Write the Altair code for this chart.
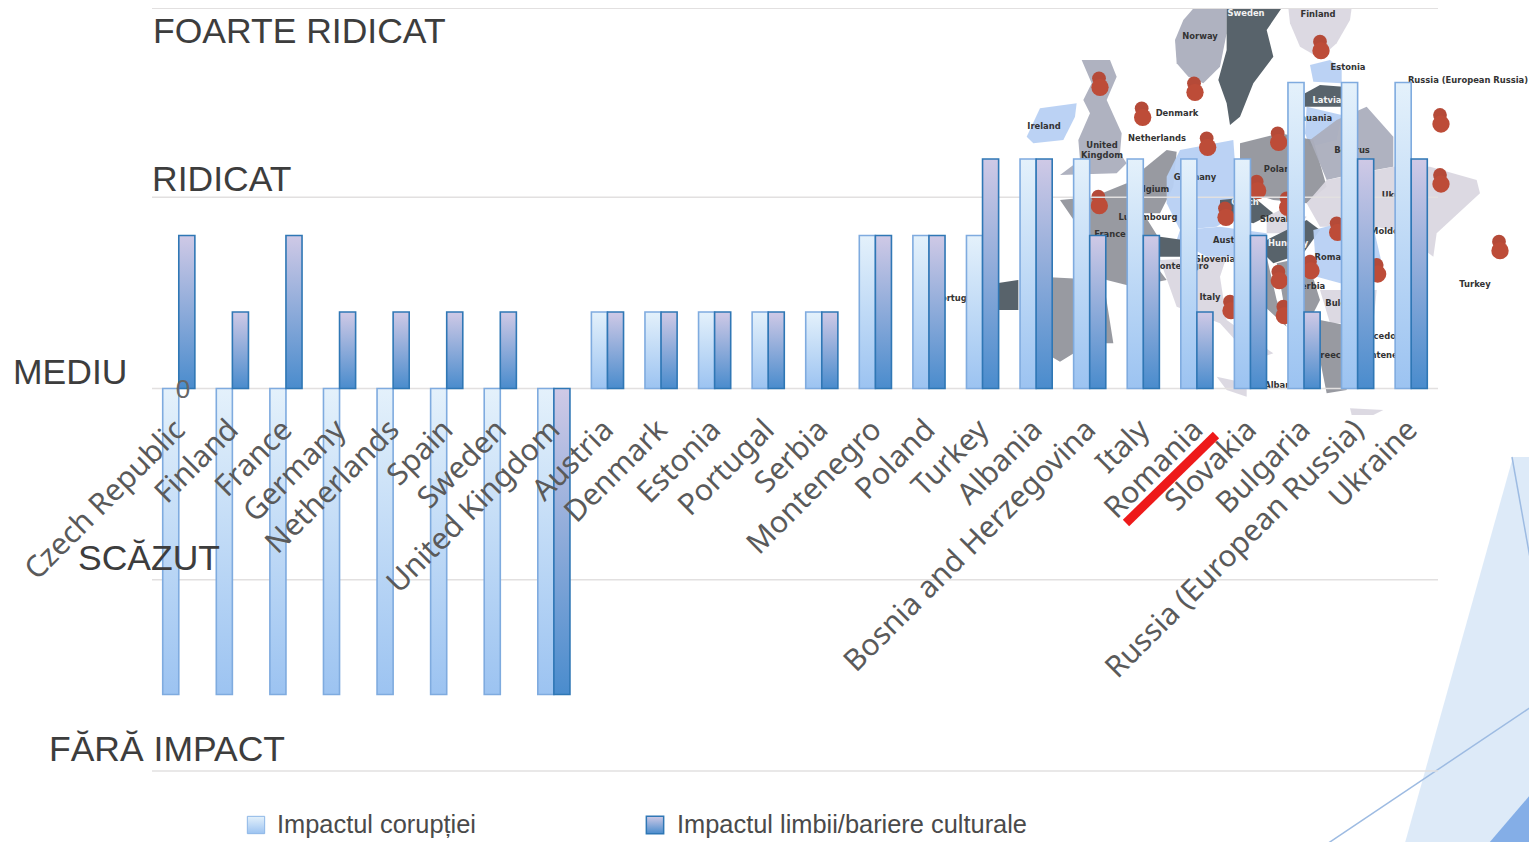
import altair as alt
import pandas as pd

countries = ["Czech Republic", "Finland", "France", "Germany", "Netherlands", "Spain", "Sweden",
             "United Kingdom", "Austria", "Denmark", "Estonia", "Portugal", "Serbia", "Montenegro",
             "Poland", "Turkey", "Albania", "Bosnia and Herzegovina", "Italy", "Romania", "Slovakia",
             "Bulgaria", "Russia (European Russia)", "Ukraine"]
coruptie = [-4, -4, -4, -4, -4, -4, -4, -4, 1, 1, 1, 1, 1, 2, 2, 2, 3, 3, 3, 3, 3, 4, 4, 4]
limba = [2, 1, 2, 1, 1, 1, 1, -4, 1, 1, 1, 1, 1, 2, 2, 3, 3, 2, 2, 1, 2, 1, 3, 3]
grid_levels = [4.97, 2.5, 0, -2.5, -5]

level_names = ["FOARTE RIDICAT", "RIDICAT", "MEDIU", "SCĂZUT", "FĂRĂ IMPACT"]
level_x = [153, 152, 13, 78, 49]
level_y = [32, 180, 373, 559, 750]

legend_names = ["Impactul corupției", "Impactul limbii/bariere culturale"]
legend_sw_x = [256, 655]
legend_tx_x = [277, 677]
legend_y = [825, 825]

# Background map pictured behind the bars (zoomed-crop units)
DARK, GREY, LAV, PALE, BLUE = "#4f5b63", "#92959c", "#abaebd", "#dad7e0", "#b7d0f3"
map_shapes = [
    (LAV, [(620,24),(530,14),(490,60),(465,120),(470,190),(505,230),(550,250),(600,200),(620,100)]),
    (PALE, [(805,24),(995,24),(990,60),(950,130),(900,175),(840,140),(810,70)]),
    (DARK, [(620,24),(785,24),(740,90),(760,170),(700,250),(680,300),(660,350),(630,375),(620,310),(595,240),(620,150)]),
    (BLUE, [(870,195),(930,180),(965,210),(965,250),(880,245)]),
    (DARK, [(855,280),(900,255),(970,260),(970,320),(855,320)]),
    (BLUE, [(860,320),(965,345),(950,420),(870,440),(855,400)]),
    (LAV, [(185,180),(270,180),(290,230),(260,300),(305,400),(300,460),(320,490),(290,520),(120,525),(180,480),(175,420),(210,340),(190,300),(215,250)]),
    (BLUE, [(60,325),(170,310),(165,350),(130,420),(40,430),(20,410)]),
    (GREY, [(120,600),(220,590),(320,550),(370,640),(420,720),(410,800),(440,840),(340,860),(260,840),(200,800),(175,680)]),
    (GREY, [(60,830),(250,840),(280,1030),(210,1030),(120,1085),(60,1050)]),
    (DARK, [(-70,850),(-5,840),(-5,930),(-70,930)]),
    (GREY, [(330,540),(440,450),(470,455),(460,560),(420,640),(370,640)]),
    (BLUE, [(440,530),(480,450),(640,420),(650,560),(650,640),(590,680),(480,690),(440,610)]),
    (GREY, [(660,430),(780,400),(880,420),(920,560),(860,610),(760,600),(660,570)]),
    (LAV, [(950,360),(1040,320),(1120,410),(1120,500),(1010,520),(920,540),(870,420)]),
    (PALE, [(920,540),(1120,500),(1230,500),(1370,540),(1380,580),(1250,700),(1240,770),(1130,690),(1060,680),(900,680),(860,610)]),
    (DARK, [(600,600),(700,590),(760,640),(700,670),(600,650)]),
    (PALE, [(740,650),(780,630),(860,650),(820,700),(740,700)]),
    (DARK, [(740,720),(860,660),(900,690),(850,760),(760,790),(740,770)]),
    (BLUE, [(480,690),(600,680),(740,700),(740,770),(560,770),(470,720)]),
    (DARK, [(420,710),(490,720),(490,770),(420,770)]),
    (PALE, [(420,780),(620,770),(600,830),(620,960),(760,1060),(700,1080),(600,970),(470,920)]),
    (GREY, [(640,780),(740,770),(770,900),(800,980),(690,880)]),
    (GREY, [(770,790),(860,770),(900,900),(880,940),(800,960)]),
    (BLUE, [(880,690),(960,670),(1060,680),(1090,810),(1000,860),(890,830)]),
    (PALE, [(900,870),(1070,870),(1060,970),(930,970)]),
    (GREY, [(900,960),(1050,990),(990,1060),(980,1170),(920,1180),(900,1080)]),
    (PALE, [(590,1130),(680,1150),(680,1190),(620,1170)]),
    (PALE, [(990,1225),(1090,1230),(1060,1245),(995,1245)]),
]
pin_zx = [237, 522, 365, 560, 773, 900, 1260, 1260, 235, 710, 800, 615, 950, 870, 775, 1070, 790, 630, 1437]
pin_zy = [235, 250, 325, 415, 400, 125, 345, 525, 590, 545, 595, 625, 670, 785, 815, 795, 920, 905, 725]

map_labels = ["Sweden", "Norway", "Finland", "Estonia", "Latvia", "Lithuania", "Russia (European Russia)",
              "Denmark", "Ireland", "United", "Kingdom", "Netherlands", "Belarus", "Germany", "Poland",
              "Ukraine", "Belgium", "Luxembourg", "Czech", "France", "Slovakia", "Austria", "Hungary",
              "Moldova", "Slovenia", "Montenegro", "Romania", "Serbia", "Italy", "Bulgaria", "Turkey",
              "Macedonia", "Greece", "Montenegro", "Albania", "Portugal"]
map_lx = [1246, 1200, 1318, 1348, 1327, 1310, 1468, 1177, 1044, 1102, 1102, 1157, 1352, 1195, 1280, 1400,
          1150, 1148, 1245, 1110, 1280, 1230, 1288, 1390, 1215, 1180, 1335, 1310, 1210, 1345, 1475, 1385,
          1330, 1385, 1282, 955]
map_ly = [13, 36, 14, 67, 100, 118, 80, 113, 126, 145, 155, 138, 150, 177, 169, 195, 189, 217, 202, 234,
          219, 240, 243, 231, 259, 266, 257, 286, 297, 303, 284, 336, 355, 355, 385, 298]
map_lc = ["#f2f2f2", "#333333", "#333333", "#333333", "#f2f2f2", "#333333", "#333333", "#333333", "#333333",
          "#333333", "#333333", "#333333", "#333333", "#333333", "#333333", "#333333", "#333333", "#333333",
          "#f2f2f2", "#333333", "#333333", "#333333", "#f2f2f2", "#333333", "#333333", "#333333", "#333333",
          "#333333", "#333333", "#333333", "#333333", "#333333", "#333333", "#333333", "#333333", "#333333"]

# Slide decoration bottom right, and the pen marks
deco_shapes = [
    ("#dbe9f8", [(1513, 457), (1537, 457), (1537, 850), (1403, 850)]),
    ("#7eabe6", [(1483, 850), (1537, 787), (1537, 850)]),
]
deco_lines_x = [1512, 1318]
deco_lines_y = [457, 850]
deco_lines_x2 = [1537, 1537]
deco_lines_y2 = [597, 703]
red_x, red_y, red_x2, red_y2 = [1126], [523], [1216], [435]


def feature(color, pts):
    ring = [list(p) for p in pts] + [list(pts[0])]
    return {"type": "Feature", "properties": {"fill": color},
            "geometry": {"type": "Polygon", "coordinates": [ring]}}


features = [feature(c, [(1020 + x / 3, y / 3) for x, y in pts]) for c, pts in map_shapes]
features += [feature(c, pts) for c, pts in deco_shapes]

cx = alt.Scale(domain=[0, 1537], range=[-8, 1529])
cy = alt.Scale(domain=[0, 850], range=[-8, 842])
X = alt.X("px:Q", scale=cx, axis=None)
Y = alt.Y("py:Q", scale=cy, axis=None)
band = alt.Scale(domain=countries, range=[144, 1430], paddingInner=0.4, paddingOuter=0.2)
val = alt.Scale(domain=[-5, 5], range=[763, -2])
FONT = "Liberation Sans"

geo = alt.Chart(alt.Data(values=features)).mark_geoshape(stroke=None, opacity=0.95).encode(
    fill=alt.Fill("properties.fill:N", scale=None)
).project(type="identity", scale=1, translate=[-8, -8])

deco = alt.Chart(pd.DataFrame({"px": deco_lines_x, "py": deco_lines_y, "px2": deco_lines_x2, "py2": deco_lines_y2})
                 ).mark_rule(color="#9dbbe2", strokeWidth=1.5).encode(x=X, y=Y, x2="px2:Q", y2="py2:Q")

pins_top = alt.Chart(pd.DataFrame({"px": [1020 + v / 3 for v in pin_zx], "py": [v / 3 for v in pin_zy]})
                     ).mark_circle(color="#b54a38", size=190, opacity=1).encode(x=X, y=Y)
pins_low = alt.Chart(pd.DataFrame({"px": [1021 + v / 3 for v in pin_zx], "py": [v / 3 + 9 for v in pin_zy]})
                     ).mark_circle(color="#bd4c38", size=300, opacity=1).encode(x=X, y=Y)

map_text = alt.Chart(pd.DataFrame({"px": map_lx, "py": map_ly, "t": map_labels, "c": map_lc})).mark_text(
    font="DejaVu Sans", fontSize=8.4, fontWeight="bold", align="center", baseline="middle"
).encode(x=X, y=Y, text="t:N", color=alt.Color("c:N", scale=None))

grid = alt.Chart(pd.DataFrame({"v": grid_levels})).mark_rule(color="#e2e0e0", strokeWidth=1.5).encode(
    y=alt.Y("v:Q", scale=val, axis=None), x=alt.value(144), x2=alt.value(1430))

df = pd.DataFrame({"country": countries * 2,
                   "series": ["a"] * 24 + ["b"] * 24,
                   "value": coruptie + limba})


def grad(top, bottom):
    return alt.Gradient(gradient="linear", x1=0, x2=0, y1=0, y2=1,
                        stops=[alt.GradientStop(color=top, offset=0), alt.GradientStop(color=bottom, offset=1)])


LIGHT = grad("#e4f1fb", "#9cc3f1")
DEEP = grad("#cfc9e6", "#4a8ccd")


def bars(key, fill, stroke):
    return alt.Chart(df[df["series"] == key]).mark_bar(fill=fill, stroke=stroke, strokeWidth=1.6).encode(
        x=alt.X("country:N", scale=band, axis=None, sort=countries),
        xOffset=alt.XOffset("series:N", scale=alt.Scale(domain=["a", "b"])),
        y=alt.Y("value:Q", scale=val, axis=None))


cat_labels = alt.Chart(pd.DataFrame({"country": countries, "v": [-0.5] * 24})).mark_text(
    font="Noto Sans", fontSize=30, color="#5a5a5a", angle=315, align="right", baseline="middle", dx=2
).encode(x=alt.X("country:N", scale=band, axis=None, sort=countries),
         y=alt.Y("v:Q", scale=val, axis=None), text="country:N")

zero = alt.Chart(pd.DataFrame({"px": [183], "py": [390], "t": ["0"]})).mark_text(
    font=FONT, fontSize=26, color="#666666", align="center", baseline="middle"
).encode(x=X, y=Y, text="t:N")

levels = alt.Chart(pd.DataFrame({"px": level_x, "py": level_y, "t": level_names})).mark_text(
    font=FONT, fontSize=35.5, color="#3d3d3d", align="left", baseline="middle"
).encode(x=X, y=Y, text="t:N")

red = alt.Chart(pd.DataFrame({"px": red_x, "py": red_y, "px2": red_x2, "py2": red_y2})).mark_rule(
    color="#ee1a1a", strokeWidth=9).encode(x=X, y=Y, x2="px2:Q", y2="py2:Q")

sw1 = alt.Chart(pd.DataFrame({"px": legend_sw_x[:1], "py": legend_y[:1]})).mark_point(
    shape="square", size=300, filled=True, fill=LIGHT, stroke="#8db6e6", strokeWidth=1, opacity=1).encode(x=X, y=Y)
sw2 = alt.Chart(pd.DataFrame({"px": legend_sw_x[1:], "py": legend_y[1:]})).mark_point(
    shape="square", size=300, filled=True, fill=DEEP, stroke="#2f77b5", strokeWidth=1.5, opacity=1).encode(x=X, y=Y)
leg_text = alt.Chart(pd.DataFrame({"px": legend_tx_x, "py": legend_y, "t": legend_names})).mark_text(
    font=FONT, fontSize=25.4, color="#4a4a4a", align="left", baseline="middle"
).encode(x=X, y=Y, text="t:N")

chart = alt.layer(
    geo, deco, map_text, pins_top, pins_low, grid,
    bars("a", LIGHT, "#7fabdf"), bars("b", DEEP, "#2f77b5"),
    cat_labels, zero, levels, red, sw1, sw2, leg_text
).resolve_scale(x="independent", y="independent").properties(
    width=1521, height=834, padding=0, autosize="none", background="white"
).configure_view(stroke=None)

chart.save("out.html", embed_options={"renderer": "svg", "actions": False})
